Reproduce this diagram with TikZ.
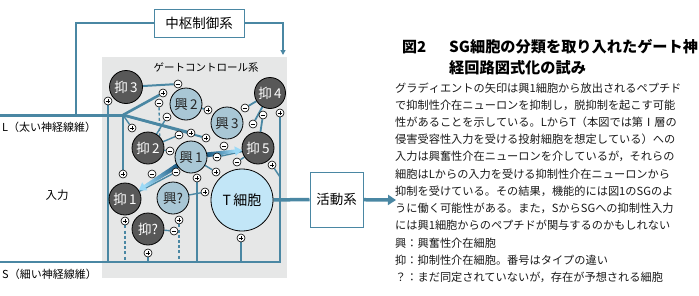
\documentclass[tikz,border=0pt]{standalone}
\usepackage{fontspec}
\setmainfont{Noto Sans CJK JP}
\usetikzlibrary{calc,arrows.meta}
\XeTeXlinebreaklocale "ja"
\XeTeXlinebreakskip=0pt plus 2pt
\definecolor{ln}{HTML}{4A87A3}
\definecolor{inhc}{HTML}{585858}
\definecolor{excc}{HTML}{A9C7D5}
\definecolor{tc}{HTML}{C2E6F7}
\definecolor{bgc}{HTML}{E6E7E7}
\definecolor{ardark}{HTML}{1B5A82}
\definecolor{arlight}{HTML}{9BD9F6}
\pgfdeclarelayer{bglayer}
\pgfdeclarelayer{wires}
\pgfsetlayers{bglayer,wires,main}
\tikzset{
 cell/.style={circle, draw=black, line width=0.8pt, minimum size=32pt, inner sep=0pt, font=\fontsize{13.5}{14}\selectfont},
 inh/.style={cell, fill=inhc, text=white},
 exc/.style={cell, fill=excc, text=black!85},
 tcell/.style={cell, fill=tc, minimum size=62pt, font=\fontsize{14}{15}\selectfont},
 sgn/.style={circle, draw=black, fill=white, line width=0.6pt, minimum size=8pt, inner sep=0pt},
 pl/.style={sgn, path picture={
   \draw[line width=0.7pt] ($(path picture bounding box.center)+(-2.4pt,0)$) -- ($(path picture bounding box.center)+(2.4pt,0)$);
   \draw[line width=0.7pt] ($(path picture bounding box.center)+(0,-2.4pt)$) -- ($(path picture bounding box.center)+(0,2.4pt)$);}},
 mi/.style={sgn, path picture={
   \draw[line width=0.7pt] ($(path picture bounding box.center)+(-2.4pt,0)$) -- ($(path picture bounding box.center)+(2.4pt,0)$);}},
 wire/.style={draw=ln, line width=1.4pt},
 dwire/.style={wire, dash pattern=on 3pt off 2.2pt},
 sysbox/.style={draw=ln, line width=1pt, fill=white, inner sep=0pt, font=\fontsize{13.5}{14}\selectfont},
 lbl/.style={inner sep=0pt, font=\fontsize{11}{12}\selectfont},
 bodyj/.style={anchor=west, inner sep=0pt, text width=298pt, text=black!90, font=\fontsize{11.2}{13}\selectfont},
 bodyr/.style={anchor=west, inner sep=0pt, text=black!90, font=\fontsize{11.2}{13}\selectfont},
}
\newcommand\gradarr[4]{%
 \coordinate (ga) at ($(#1)!#3!(#2)$);
 \coordinate (gb) at ($(#1)!#4!(#2)$);
 \coordinate (gh) at ($(gb)!7pt!(ga)$);
 \foreach \k in {0,...,23}{%
   \pgfmathsetmacro\pa{\k/24}%
   \pgfmathsetmacro\pb{min((\k+1.4)/24,1)}%
   \pgfmathsetmacro\pc{100-\k*100/23}%
   \pgfmathsetmacro\wd{4.8-\k*1.8/23}%
   \draw[line width=\wd pt, color=ardark!\pc!arlight] ($(ga)!\pa!(gh)$) -- ($(ga)!\pb!(gh)$);
 }
 \fill[arlight] (gb) -- ($(gh)!4.8pt!90:(gb)$) -- ($(gh)!4.8pt!-90:(gb)$) -- cycle;
}
\begin{document}
\begin{tikzpicture}[x=1pt,y=-1pt]
\useasboundingbox (0,0) rectangle (699,295);
\begin{pgfonlayer}{bglayer}
\fill[bgc] (102,57) rectangle (287,278);
\end{pgfonlayer}
\node[font=\fontsize{10.5}{11}\selectfont, inner sep=0pt] (GC) at (206,68) {ゲートコントロール系};

% coordinates
\coordinate (Ls) at (0,115);
\coordinate (J) at (123,115);
\coordinate (Ss) at (0,262);
\coordinate (Se) at (280,262);
\coordinate (Sb) at (280,177);
\coordinate (CL) at (76,115);
\coordinate (CA) at (283,55);
\coordinate (AO) at (396,200);

% cells
\node[inh, minimum size=33pt] (I3) at (126,87) {抑\,3};
\node[exc] (E2) at (186,104) {興\,2};
\node[inh, minimum size=31pt] (I4) at (270,93) {抑\,4};
\node[exc] (E3) at (227,123) {興\,3};
\node[inh] (I2) at (148,148) {抑\,2};
\node[exc] (E1) at (191,157) {興\,1};
\node[inh] (I5) at (258,148) {抑\,5};
\node[inh] (I1) at (125,199) {抑\,1};
\node[exc] (Eq) at (173,198) {興?};
\node[inh] (Iq) at (148,229) {抑?};
\node[tcell] (T) at (242,200) {T\,細胞};

% signs
\node[pl] (pA3) at (108,101) {};
\node[pl] (pE2) at (163,93) {};
\node[mi] (mE2b) at (159,103) {};
\node[mi] (mE2a) at (178,84) {};
\node[mi] (mE2c) at (167,117) {};
\node[pl] (pI2) at (132,128) {};
\node[mi] (mE1a) at (179,135) {};
\node[pl] (pE1a) at (191,133) {};
\node[pl] (pE3a) at (206,138) {};
\node[pl] (pE3b) at (208,110) {};
\node[mi] (mE3) at (245,108) {};
\node[mi] (mI4) at (263,115) {};
\node[mi] (mI5) at (253,124) {};
\node[pl] (pI4) at (280,113) {};
\node[mi] (mArr5) at (224,146) {};
\node[mi] (mE1d) at (217,157) {};
\node[mi] (mT) at (237,162) {};
\node[pl] (pI5) at (272,165) {};
\node[mi] (mE1b) at (170,151) {};
\node[mi] (mE1c) at (176,172) {};
\node[mi] (mArr1) at (152,174) {};
\node[pl] (pI1) at (123,174) {};
\node[pl] (pE1b) at (197,178) {};
\node[pl] (pT1) at (216,172) {};
\node[pl] (pT2) at (205,192) {};
\node[pl] (pEq) at (179,220) {};
\node[mi] (mIq) at (174,231) {};
\node[pl] (pI1b) at (125,221) {};
\node[pl] (pIq) at (148,253) {};
\node[pl] (pT3) at (241,238) {};

% system boxes
\node[sysbox, minimum width=90pt, minimum height=28pt] (C) at (199,23) {中枢制御系};
\node[sysbox, minimum width=53pt, minimum height=55pt] (Act) at (336.5,199.5) {活動系};

\begin{pgfonlayer}{wires}
\draw[wire, line width=3pt] (Ls) -- (J);
\draw[wire, line width=2.6pt] (J) -- (pE2);
\draw[wire, line width=2.8pt] (J) -- (pE1a);
\draw[wire, line width=2pt] (J) -- (pE3a);
\draw[wire] (J) -- (pI2);
\draw[wire, line width=2pt] (J) -- (pI1);
\draw[wire, line width=1.3pt] (C.west) -| (CL);
\draw[wire, line width=1.3pt, -{Triangle[length=5pt,width=5pt]}] (C.east) -| (CA);
\draw[wire, line width=2pt] (I3) -- (mE2a);
\draw[dwire] (I2.north east) -- (mE2b);
\draw[wire] (I2) -- (mE2c);
\draw[wire] (I2) -- (mE1a);
\draw[wire] (I2) -- (mE1b);
\draw[wire, line width=1.6pt] (E2) -- (pE3b);
\draw[wire, line width=1.8pt] (I4) -- (mE3);
\draw[wire, line width=1.8pt] (I4) -- (mI5);
\draw[wire, line width=1.8pt] (I5) -- (mI4);
\draw[wire] (I5) -- (mE1d);
\draw[wire] (I5) -- (mT);
\draw[wire] (I1) -- (mE1c);
\draw[wire] (Eq) -- (pT2);
\draw[wire] (Iq) -- (mIq);
\draw[wire] (E1) -- (pT1);
\draw[wire] (Ss) -- (Se) -- (pI4);
\draw[wire] (Sb) -- (pI5);
\draw[wire] (pA3) -- (pA3 |- Ss);
\draw[dwire] (pI1b) -- (pI1b |- Ss);
\draw[wire] (pIq) -- (pIq |- Ss);
\draw[dwire] (pEq) -- (pEq |- Ss);
\draw[wire] (pE1b) -- (pE1b |- Ss);
\draw[wire] (pT3) -- (pT3 |- Ss);
\draw[wire, line width=3.5pt] (T) -- (Act);
\draw[wire, line width=3.5pt, -{Triangle[length=8pt,width=10pt]}] (Act) -- (AO);
\gradarr{E1}{I1}{0.2}{0.79}
\gradarr{E1}{I5}{0.24}{0.76}
\end{pgfonlayer}

% labels
\node[lbl, anchor=west] (Llab) at (2,127) {L（太い神経線維）};
\node[lbl, anchor=west] (Slab) at (2,274) {S（細い神経線維）};
\node[lbl, font=\fontsize{11.5}{12}\selectfont] (In) at (57,195) {入力};

% caption
\node[anchor=west, inner sep=0pt, font=\fontsize{15}{16}\bfseries] (t1) at (402,47) {図2};
\node[anchor=west, inner sep=0pt, font=\fontsize{15.2}{16}\bfseries] (t2) at (449,47) {SG細胞の分類を取り入れたゲート神};
\node[anchor=west, inner sep=0pt, font=\fontsize{15.2}{16}\bfseries] (t3) at (449,68) {経回路図式化の試み};

\node[bodyj] (b1) at (395,88) {\noindent\parfillskip=0pt グラディエントの矢印は興1細胞から放出されるペプチド};
\node[bodyj] (b2) at (395,105.2) {\noindent\parfillskip=0pt で抑制性介在ニューロンを抑制し，脱抑制を起こす可能};
\node[bodyj] (b3) at (395,122.4) {\noindent\parfillskip=0pt 性があることを示している。LからT（本図では第Ⅰ層の};
\node[bodyj] (b4) at (395,139.6) {\noindent\parfillskip=0pt 侵害受容性入力を受ける投射細胞を想定している）への};
\node[bodyj] (b5) at (395,156.8) {\noindent\parfillskip=0pt 入力は興奮性介在ニューロンを介しているが，それらの};
\node[bodyj] (b6) at (395,174) {\noindent\parfillskip=0pt 細胞はLからの入力を受ける抑制性介在ニューロンから};
\node[bodyj] (b7) at (395,191.2) {\noindent\parfillskip=0pt 抑制を受けている。その結果，機能的には図1のSGのよ};
\node[bodyj] (b8) at (395,208.4) {\noindent\parfillskip=0pt うに働く可能性がある。また，SからSGへの抑制性入力};
\node[bodyj] (b9) at (395,225.6) {\noindent\parfillskip=0pt には興1細胞からのペプチドが関与するのかもしれない};
\node[bodyr] (b10) at (395,242.8) {興：興奮性介在細胞};
\node[bodyr] (b11) at (395,260) {抑：抑制性介在細胞。番号はタイプの違い};
\node[bodyr] (b12) at (395,277.2) {？：まだ同定されていないが，存在が予想される細胞};
\end{tikzpicture}
\end{document}
